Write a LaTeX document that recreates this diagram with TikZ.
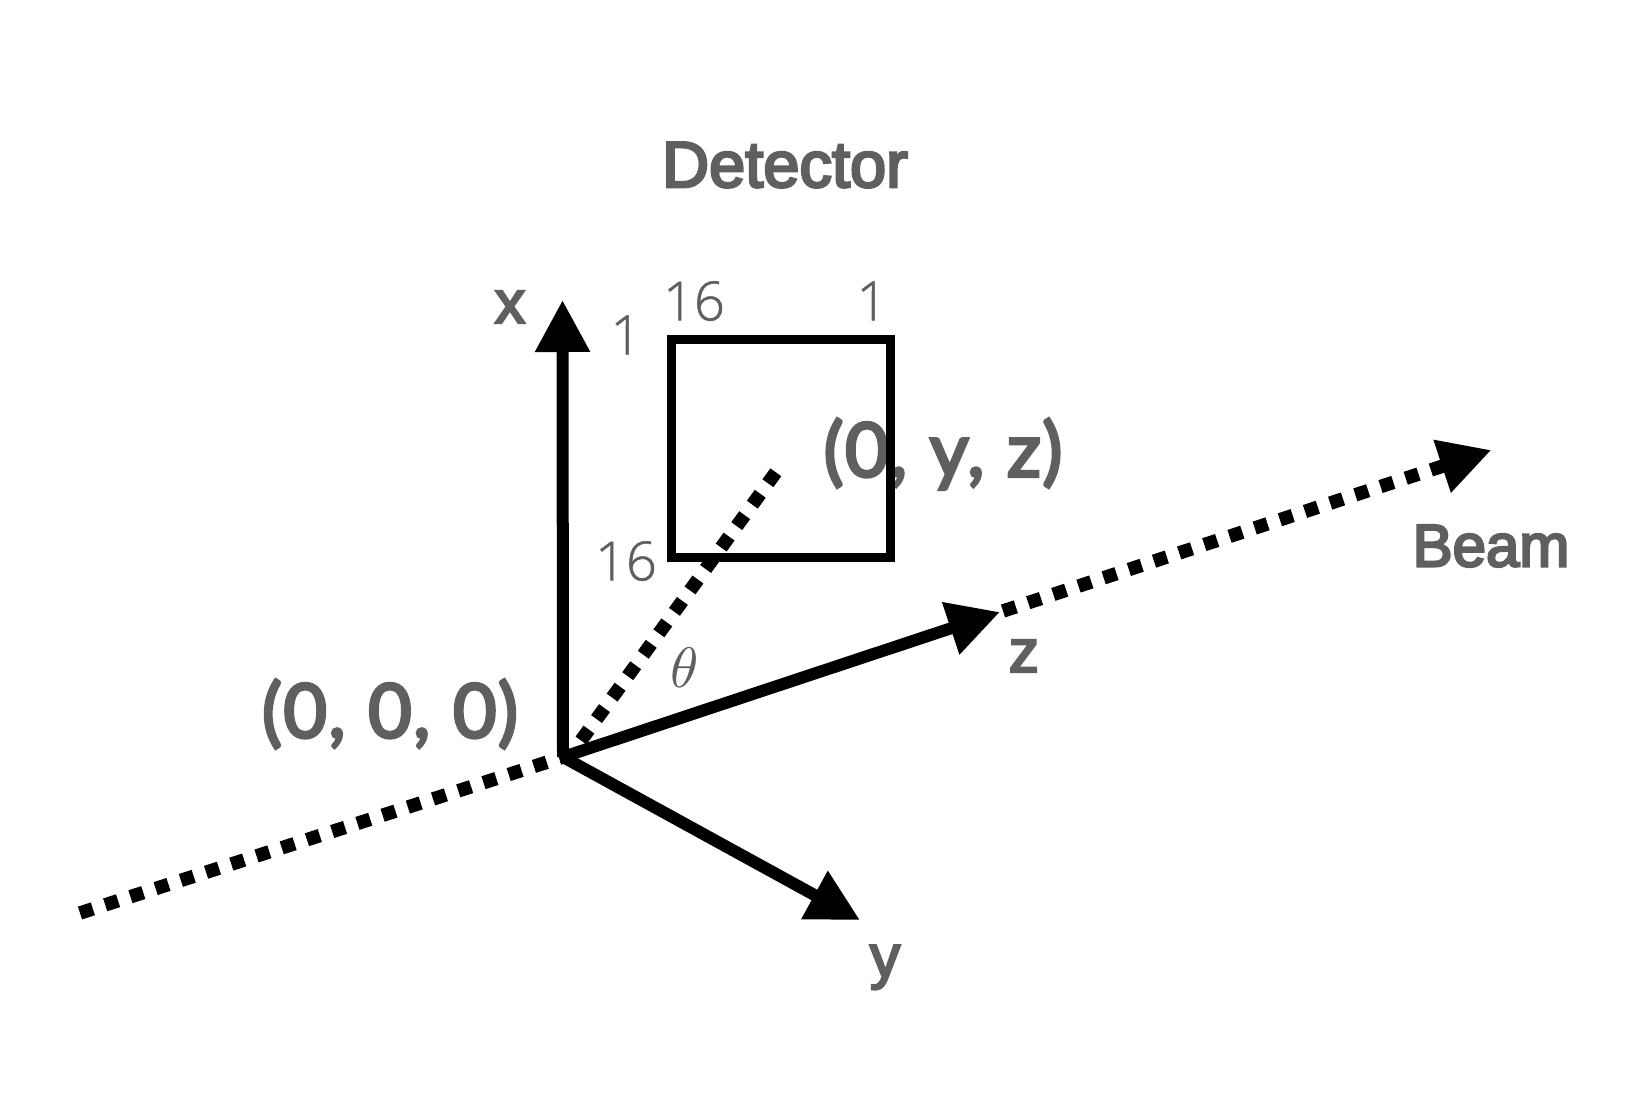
\documentclass[tikz,border=0pt]{standalone}
\usepackage{fontspec}
\usetikzlibrary{arrows.meta}
\setmainfont{Lato}
\newfontfamily\labfont{Liberation Sans}[FakeBold=4]
\newfontfamily\coordfont{Lato}[FakeBold=4,LetterSpace=2,WordSpace=1.1]
\newfontfamily\numfont{Open Sans Light}[FakeBold=1]
\definecolor{txtgray}{HTML}{5F5F5F}
\tikzset{
  axis/.style={line width=12pt,-{Triangle[length=52pt,width=52pt]}},
  dots/.style={line width=13.5pt,dash pattern=on 13.5pt off 13pt},
  labeltext/.style={text=txtgray,inner sep=0pt,font=\fontsize{60}{60}\labfont},
  coordtext/.style={text=txtgray,inner sep=0pt,font=\fontsize{75}{75}\coordfont},
  numtext/.style={text=txtgray,inner sep=0pt,font=\fontsize{54}{54}\numfont},
  boxline/.style={line width=9pt,draw=black,fill=none,minimum width=219pt,minimum height=218pt,inner sep=0pt}
}
\begin{document}
\begin{tikzpicture}[x=1pt,y=-1pt]
\useasboundingbox (0,0) rectangle (1644,1106);
\fill[white] (0,0) rectangle (1644,1106);
% texts
\node[labeltext,font=\fontsize{65}{65}\labfont] (det) at (785,165) {Detector};
\node[labeltext] (beamlab) at (1491,546) {Beam};
\node[labeltext] (xlab) at (510,307) {x};
\node[labeltext] (zlab) at (1024,656) {z};
\node[labeltext,anchor=base] (ylab) at (885,977) {y};
\node[coordtext] (orig) at (390,714) {(0, 0, 0)};
\node[coordtext] (point) at (943,454) {(0, y, z)};
\node[numtext] (n16a) at (694,301) {16};
\node[numtext] (n1a) at (872,301) {1};
\node[numtext] (n1b) at (626,335) {1};
\node[numtext] (n16b) at (626,561) {16};
\node[text=txtgray,inner sep=0pt,scale=5.7] (theta) at (685,668) {$\theta$};
% coordinates
\coordinate (O) at (563,757);
\coordinate (xtip) at (562.5,300);
\coordinate (ytip) at (860,920);
\coordinate (ztip) at (1000,612);
\coordinate (zgap) at (1003,611);
\coordinate (beamtip) at (1491.5,450);
\coordinate (tail) at (80,913);
\coordinate (thetaS) at (581,740.5);
\coordinate (thetaE) at (775.9,472.2);
% detector
\node[boxline] (box) at (781,448.5) {};
% dotted
\draw[dots] (tail) -- (O);
\draw[dots] (thetaS) -- (thetaE);
\draw[dots,-{Triangle[length=52pt,width=52pt]}] (zgap) -- (beamtip);
% axes
\draw[axis] (O) -- (xtip);
\draw[axis] (O) -- (ytip);
\draw[axis] (O) -- (ztip);
\end{tikzpicture}
\end{document}
